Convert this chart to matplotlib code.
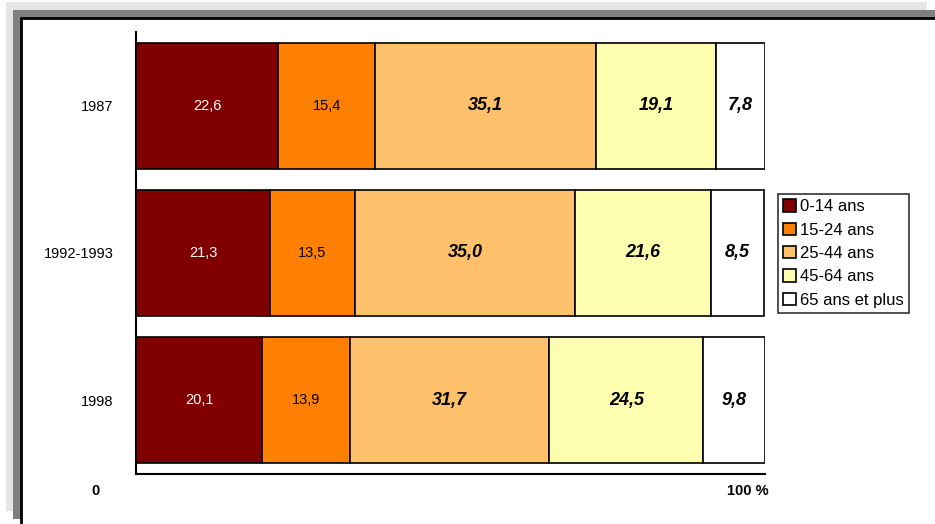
import matplotlib
matplotlib.use("Agg")
from matplotlib import pyplot as plt
from matplotlib import patches
import numpy as np

# data
years = ["1987", "1992-1993", "1998"]
groups = ["0-14 ans", "15-24 ans", "25-44 ans", "45-64 ans", "65 ans et plus"]
v_0_14 = [22.6, 21.3, 20.1]
v_15_24 = [15.4, 13.5, 13.9]
v_25_44 = [35.1, 35.0, 31.7]
v_45_64 = [19.1, 21.6, 24.5]
v_65 = [7.8, 8.5, 9.8]
x_tick_labels = ["0", "100 %"]

colors = ["#800000", "#ff8000", "#ffc06c", "#ffffb0", "#ffffff"]
label_colors = ["white", "black", "black", "black", "black"]
label_bold = [False, False, True, True, True]

W, H = 935, 524
plt.rcParams["font.family"] = ["Liberation Sans", "DejaVu Sans"]
fig = plt.figure(figsize=(W / 100, H / 100), dpi=100)


def px_rect(x0, y0, x1, y1, **kw):
    # rectangle given in image pixels (origin top-left)
    r = patches.Rectangle((x0 / W, 1 - y1 / H), (x1 - x0) / W, (y1 - y0) / H,
                          transform=fig.transFigure, **kw)
    fig.add_artist(r)


# frame with shadow like the original export
px_rect(6, 2, 927, 511, facecolor="#e6e6e6", edgecolor="none", zorder=0)
px_rect(13, 10, 940, 519, facecolor="#808080", edgecolor="none", zorder=0)
px_rect(21, 18, 945, 530, facecolor="white", edgecolor="black", linewidth=2, zorder=0)

ax = fig.add_axes([136 / W, 50 / H, (765 - 136) / W, (474 - 32) / H])
ax.set_facecolor("none")

series = [v_0_14, v_15_24, v_25_44, v_45_64, v_65]
y = np.arange(len(years))
left = np.zeros(len(years))
for vals, name, col, tcol, bold in zip(series, groups, colors, label_colors, label_bold):
    vals = np.array(vals)
    ax.barh(y, vals, left=left, height=0.855, color=col, edgecolor="black",
            linewidth=1.2, label=name)
    for yi, (l, v) in enumerate(zip(left, vals)):
        txt = f"{v:.1f}".replace(".", ",")
        if bold:
            ax.text(l + v / 2, yi, txt, ha="center", va="center", color=tcol,
                    fontsize=13, fontweight="bold", fontstyle="italic")
        else:
            ax.text(l + v / 2, yi, txt, ha="center", va="center", color=tcol,
                    fontsize=10.5)
    left += vals

ax.set_xlim(0, 100)
ax.set_ylim(2.5, -0.5)
ax.set_yticks(y)
ax.set_yticklabels(years, fontsize=10.5)
ax.tick_params(axis="y", length=0, pad=16)
ax.set_xticks([])
for s in ["top", "right"]:
    ax.spines[s].set_visible(False)
for s in ["left", "bottom"]:
    ax.spines[s].set_linewidth(1.5)

# x labels as in the original (offset from the axis ends)
fig.text(96 / W, 1 - 491 / H, x_tick_labels[0], ha="center", va="center",
         fontsize=10.5, fontweight="bold")
fig.text(748 / W, 1 - 491 / H, x_tick_labels[1], ha="center", va="center",
         fontsize=10.5, fontweight="bold")

leg = ax.legend(loc="upper left", bbox_to_anchor=(778 / W, 1 - 194 / H),
                bbox_transform=fig.transFigure, borderaxespad=0, fontsize=12,
                frameon=True, fancybox=False, edgecolor="black",
                handlelength=0.75, handleheight=0.75, handletextpad=0.25,
                labelspacing=0.5, borderpad=0.32)
leg.get_frame().set_linewidth(1.2)

fig.savefig("out.png", dpi=100)
